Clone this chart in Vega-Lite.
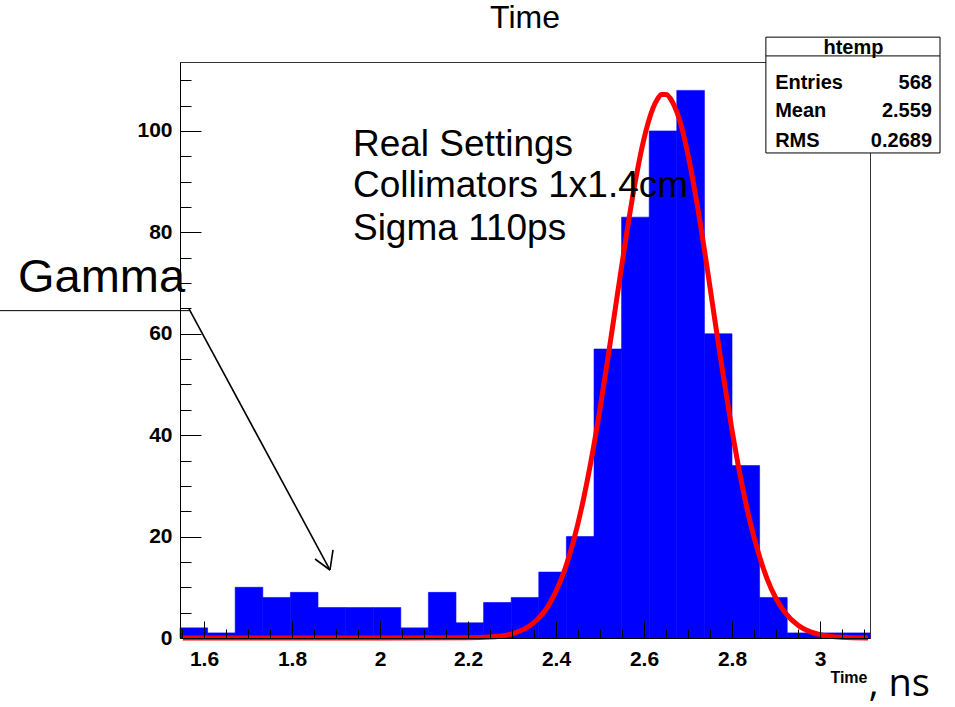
{
  "$schema": "https://vega.github.io/schema/vega-lite/v6.json",
  "width": 690,
  "height": 576,
  "autosize": {"type": "none"},
  "padding": {"left": 180, "top": 62, "right": 85, "bottom": 69},
  "background": "white",
  "config": {
    "view": {"stroke": "#333", "strokeWidth": 1}
  },
  "resolve": {"axis": {"x": "independent", "y": "independent"}},
  "datasets": {
    "hist": [
      {"lo": 1.5455, "hi": 1.6082, "count": 2},
      {"lo": 1.6082, "hi": 1.6709, "count": 1},
      {"lo": 1.6709, "hi": 1.7337, "count": 10},
      {"lo": 1.7337, "hi": 1.7964, "count": 8},
      {"lo": 1.7964, "hi": 1.8591, "count": 9},
      {"lo": 1.8591, "hi": 1.9218, "count": 6},
      {"lo": 1.9218, "hi": 1.9846, "count": 6},
      {"lo": 1.9846, "hi": 2.0473, "count": 6},
      {"lo": 2.0473, "hi": 2.11, "count": 2},
      {"lo": 2.11, "hi": 2.1727, "count": 9},
      {"lo": 2.1727, "hi": 2.2355, "count": 3},
      {"lo": 2.2355, "hi": 2.2982, "count": 7},
      {"lo": 2.2982, "hi": 2.3609, "count": 8},
      {"lo": 2.3609, "hi": 2.4236, "count": 13},
      {"lo": 2.4236, "hi": 2.4864, "count": 20},
      {"lo": 2.4864, "hi": 2.5491, "count": 57},
      {"lo": 2.5491, "hi": 2.6118, "count": 83},
      {"lo": 2.6118, "hi": 2.6745, "count": 100},
      {"lo": 2.6745, "hi": 2.7373, "count": 108},
      {"lo": 2.7373, "hi": 2.8, "count": 60},
      {"lo": 2.8, "hi": 2.8627, "count": 34},
      {"lo": 2.8627, "hi": 2.9254, "count": 8},
      {"lo": 2.9254, "hi": 2.9882, "count": 1},
      {"lo": 2.9882, "hi": 3.0509, "count": 1},
      {"lo": 3.0509, "hi": 3.1136, "count": 1}
    ],
    "fit": [
      {"t": 1.552, "f": 0},
      {"t": 1.8, "f": 0},
      {"t": 2.0, "f": 0},
      {"t": 2.2, "f": 0.03},
      {"t": 2.25, "f": 0.18},
      {"t": 2.3, "f": 0.83},
      {"t": 2.35, "f": 3.06},
      {"t": 2.38, "f": 6.0},
      {"t": 2.4, "f": 9.21},
      {"t": 2.42, "f": 13.5},
      {"t": 2.44, "f": 19.2},
      {"t": 2.46, "f": 26.4},
      {"t": 2.48, "f": 35.1},
      {"t": 2.5, "f": 45.2},
      {"t": 2.52, "f": 56.4},
      {"t": 2.54, "f": 68.0},
      {"t": 2.56, "f": 79.5},
      {"t": 2.58, "f": 89.9},
      {"t": 2.6, "f": 98.5},
      {"t": 2.61, "f": 101.8},
      {"t": 2.62, "f": 104.4},
      {"t": 2.63, "f": 106.2},
      {"t": 2.64, "f": 107.2},
      {"t": 2.65, "f": 107.2},
      {"t": 2.66, "f": 106.4},
      {"t": 2.67, "f": 104.7},
      {"t": 2.68, "f": 102.4},
      {"t": 2.69, "f": 99.2},
      {"t": 2.7, "f": 95.3},
      {"t": 2.72, "f": 85.9},
      {"t": 2.74, "f": 75.0},
      {"t": 2.76, "f": 63.3},
      {"t": 2.78, "f": 51.8},
      {"t": 2.8, "f": 41.0},
      {"t": 2.82, "f": 31.4},
      {"t": 2.84, "f": 23.3},
      {"t": 2.86, "f": 16.8},
      {"t": 2.88, "f": 11.6},
      {"t": 2.9, "f": 7.8},
      {"t": 2.92, "f": 5.1},
      {"t": 2.95, "f": 2.5},
      {"t": 2.98, "f": 1.15},
      {"t": 3.0, "f": 0.66},
      {"t": 3.05, "f": 0.14},
      {"t": 3.109, "f": 0.01}
    ]
  },
  "layer": [
    {
      "data": {"name": "hist"},
      "mark": {"type": "bar", "color": "#0000ff", "stroke": "#0000ff", "strokeWidth": 0.6},
      "encoding": {
        "x": {
          "field": "lo", "type": "quantitative",
          "scale": {"domain": [1.5455, 3.1136], "nice": false, "zero": false},
          "axis": {
            "orient": "bottom",
            "values": [1.6, 1.8, 2.0, 2.2, 2.4, 2.6, 2.8, 3.0],
            "format": "~g",
            "labelOverlap": false,
            "labelBound": false,
            "labelFlush": false,
            "labelFont": "Liberation Sans",
            "labelFontWeight": "bold",
            "labelFontSize": 21,
            "labelColor": "black",
            "tickSize": -17,
            "tickColor": "black",
            "domainColor": "black",
            "grid": false,
            "zindex": 1,
            "labelPadding": 27,
            "title": "Time",
            "titleFont": "Liberation Sans",
            "titleFontSize": 16,
            "titleFontWeight": "bold",
            "titleColor": "black",
            "titleAnchor": "end",
            "titleAlign": "right",
            "titleBaseline": "alphabetic",
            "titleX": 687,
            "titleY": 44
          }
        },
        "x2": {"field": "hi"},
        "y": {
          "field": "count", "type": "quantitative",
          "scale": {"domain": [0, 113.6], "nice": false},
          "axis": {
            "orient": "left",
            "values": [0, 20, 40, 60, 80, 100],
            "labelOverlap": false,
            "labelBound": false,
            "labelFlush": false,
            "labelFont": "Liberation Sans",
            "labelFontWeight": "bold",
            "labelFontSize": 21,
            "labelColor": "black",
            "tickSize": -21,
            "tickColor": "black",
            "domainColor": "black",
            "grid": false,
            "zindex": 1,
            "labelPadding": 29,
            "title": null
          }
        },
        "y2": {"datum": 0}
      }
    },
    {
      "data": {"name": "fit"},
      "mark": {"type": "line", "color": "#ff0000", "strokeWidth": 5, "clip": false, "interpolate": "monotone"},
      "encoding": {
        "x": {
          "field": "t", "type": "quantitative",
          "axis": {
            "orient": "bottom",
            "values": [1.55, 1.65, 1.7, 1.75, 1.85, 1.9, 1.95, 2.05, 2.1, 2.15, 2.25, 2.3, 2.35, 2.45, 2.5, 2.55, 2.65, 2.7, 2.75, 2.85, 2.9, 2.95, 3.05, 3.1],
            "labels": false,
            "domain": false,
            "grid": false,
            "tickSize": -9,
            "tickColor": "black",
            "zindex": 1,
            "title": null
          }
        },
        "y": {
          "field": "f", "type": "quantitative",
          "axis": {
            "orient": "left",
            "values": [5, 10, 15, 25, 30, 35, 45, 50, 55, 65, 70, 75, 85, 90, 95, 105, 110],
            "labels": false,
            "domain": false,
            "grid": false,
            "tickSize": -11,
            "tickColor": "black",
            "zindex": 1,
            "title": null
          }
        }
      }
    },
    {
      "data": {"values": [{}]},
      "mark": {"type": "text", "align": "center", "baseline": "alphabetic", "font": "Liberation Sans", "fontSize": 32, "color": "black", "clip": false},
      "encoding": {"x": {"datum": 2.3295, "axis": null}, "y": {"datum": 120.3, "axis": null}, "text": {"value": "Time"}}
    },
    {
      "data": {"values": [{}]},
      "mark": {"type": "rule", "color": "black", "strokeWidth": 1, "clip": false},
      "encoding": {
        "x": {"datum": 1.1364, "axis": null}, "x2": {"datum": 1.566},
        "y": {"datum": 64.56, "axis": null}, "y2": {"datum": 64.56}
      }
    },
    {
      "data": {"values": [{}]},
      "mark": {"type": "rule", "color": "black", "strokeWidth": 1.6, "clip": false},
      "encoding": {
        "x": {"datum": 1.566, "axis": null}, "x2": {"datum": 1.8864},
        "y": {"datum": 64.9, "axis": null}, "y2": {"datum": 13.41}
      }
    },
    {
      "data": {"values": [{}]},
      "mark": {"type": "rule", "color": "black", "strokeWidth": 1.6, "clip": false},
      "encoding": {
        "x": {"datum": 1.8864, "axis": null}, "x2": {"datum": 1.8932},
        "y": {"datum": 13.41, "axis": null}, "y2": {"datum": 17.36}
      }
    },
    {
      "data": {"values": [{}]},
      "mark": {"type": "rule", "color": "black", "strokeWidth": 1.6, "clip": false},
      "encoding": {
        "x": {"datum": 1.8864, "axis": null}, "x2": {"datum": 1.8523},
        "y": {"datum": 13.41, "axis": null}, "y2": {"datum": 15.58}
      }
    },
    {
      "data": {"values": [{}]},
      "mark": {"type": "text", "align": "left", "baseline": "alphabetic", "font": "Liberation Sans", "fontSize": 47, "color": "black", "clip": false},
      "encoding": {"x": {"datum": 1.1773, "axis": null}, "y": {"datum": 68.3, "axis": null}, "text": {"value": "Gamma"}}
    },
    {
      "data": {"values": [{}]},
      "mark": {"type": "text", "align": "left", "baseline": "alphabetic", "font": "Liberation Sans", "fontSize": 37, "color": "black", "clip": false},
      "encoding": {"x": {"datum": 1.9386, "axis": null}, "y": {"datum": 95.07, "axis": null}, "text": {"value": "Real Settings"}}
    },
    {
      "data": {"values": [{}]},
      "mark": {"type": "text", "align": "left", "baseline": "alphabetic", "font": "Liberation Sans", "fontSize": 37, "color": "black", "clip": false},
      "encoding": {"x": {"datum": 1.9386, "axis": null}, "y": {"datum": 86.92, "axis": null}, "text": {"value": "Collimators 1x1.4cm"}}
    },
    {
      "data": {"values": [{}]},
      "mark": {"type": "text", "align": "left", "baseline": "alphabetic", "font": "Liberation Sans", "fontSize": 37, "color": "black", "clip": false},
      "encoding": {"x": {"datum": 1.9386, "axis": null}, "y": {"datum": 78.5, "axis": null}, "text": {"value": "Sigma 110ps"}}
    },
    {
      "data": {"values": [{}]},
      "mark": {"type": "rect", "fill": "white", "stroke": "black", "strokeWidth": 1, "clip": false},
      "encoding": {"x": {"datum": 2.877, "axis": null}, "x2": {"datum": 3.2727}, "y": {"datum": 118.5, "axis": null}, "y2": {"datum": 95.66}}
    },
    {
      "data": {"values": [{}]},
      "mark": {"type": "rule", "color": "black", "strokeWidth": 1, "clip": false},
      "encoding": {"x": {"datum": 2.877, "axis": null}, "x2": {"datum": 3.2727}, "y": {"datum": 114.8, "axis": null}, "y2": {"datum": 114.8}}
    },
    {
      "data": {"values": [{}]},
      "mark": {"type": "text", "align": "center", "baseline": "middle", "font": "Liberation Sans", "fontWeight": "bold", "fontSize": 20, "color": "black", "clip": false},
      "encoding": {"x": {"datum": 3.076, "axis": null}, "y": {"datum": 116.4, "axis": null}, "text": {"value": "htemp"}}
    },
    {
      "data": {"values": [{}]},
      "mark": {"type": "text", "align": "left", "baseline": "middle", "font": "Liberation Sans", "fontWeight": "bold", "fontSize": 20, "color": "black", "clip": false},
      "encoding": {"x": {"datum": 2.898, "axis": null}, "y": {"datum": 109.5, "axis": null}, "text": {"value": "Entries"}}
    },
    {
      "data": {"values": [{}]},
      "mark": {"type": "text", "align": "right", "baseline": "middle", "font": "Liberation Sans", "fontWeight": "bold", "fontSize": 20, "color": "black", "clip": false},
      "encoding": {"x": {"datum": 3.2545, "axis": null}, "y": {"datum": 109.5, "axis": null}, "text": {"value": "568"}}
    },
    {
      "data": {"values": [{}]},
      "mark": {"type": "text", "align": "left", "baseline": "middle", "font": "Liberation Sans", "fontWeight": "bold", "fontSize": 20, "color": "black", "clip": false},
      "encoding": {"x": {"datum": 2.898, "axis": null}, "y": {"datum": 104.0, "axis": null}, "text": {"value": "Mean"}}
    },
    {
      "data": {"values": [{}]},
      "mark": {"type": "text", "align": "right", "baseline": "middle", "font": "Liberation Sans", "fontWeight": "bold", "fontSize": 20, "color": "black", "clip": false},
      "encoding": {"x": {"datum": 3.2545, "axis": null}, "y": {"datum": 104.0, "axis": null}, "text": {"value": "2.559"}}
    },
    {
      "data": {"values": [{}]},
      "mark": {"type": "text", "align": "left", "baseline": "middle", "font": "Liberation Sans", "fontWeight": "bold", "fontSize": 20, "color": "black", "clip": false},
      "encoding": {"x": {"datum": 2.898, "axis": null}, "y": {"datum": 98.0, "axis": null}, "text": {"value": "RMS"}}
    },
    {
      "data": {"values": [{}]},
      "mark": {"type": "text", "align": "right", "baseline": "middle", "font": "Liberation Sans", "fontWeight": "bold", "fontSize": 20, "color": "black", "clip": false},
      "encoding": {"x": {"datum": 3.2545, "axis": null}, "y": {"datum": 98.0, "axis": null}, "text": {"value": "0.2689"}}
    },
    {
      "data": {"values": [{}]},
      "mark": {"type": "text", "align": "left", "baseline": "alphabetic", "font": "Open Sans", "fontSize": 38, "color": "black", "clip": false},
      "encoding": {"x": {"datum": 3.111, "axis": null}, "y": {"datum": -11.4, "axis": null}, "text": {"value": ", ns"}}
    }
  ]
}
